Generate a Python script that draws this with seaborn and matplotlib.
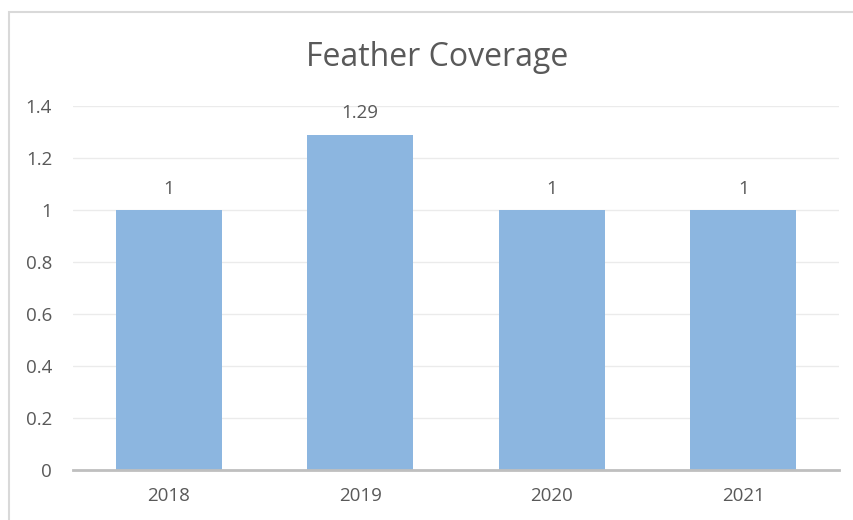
import matplotlib
matplotlib.use("Agg")
import matplotlib.pyplot as plt
import seaborn as sns
import pandas as pd
from matplotlib.patches import Rectangle

years = ["2018", "2019", "2020", "2021"]
values = [1, 1.29, 1, 1]
value_labels = ["1", "1.29", "1", "1"]
yticks = [0, 0.2, 0.4, 0.6, 0.8, 1, 1.2, 1.4]
ytick_labels = ["0", "0.2", "0.4", "0.6", "0.8", "1", "1.2", "1.4"]

sns.set_theme(style="white")
plt.rcParams['font.family'] = ['Open Sans', 'DejaVu Sans']

text_color = "#595959"
fig = plt.figure(figsize=(8.54, 5.2), dpi=100)
fig.patches.append(Rectangle((9/854, -0.1), 2.0, 1 - 12/520 + 0.1, transform=fig.transFigure,
                             fill=False, edgecolor="#D9D9D9", linewidth=1.5))
ax = fig.add_axes([73/854, 1 - 470/520, (839 - 73)/854, (470 - 106)/520])

df = pd.DataFrame({"year": years, "value": values})
sns.barplot(data=df, x="year", y="value", color="#8CB6E0", saturation=1, width=0.553,
            linewidth=0, edgecolor="none", ax=ax)

ax.set_ylim(0, 1.4)
ax.set_yticks(yticks)
ax.set_yticklabels(ytick_labels)
ax.yaxis.grid(True, color="#EBEBEB", linewidth=1)
ax.set_axisbelow(True)
for s in ["top", "right", "left"]:
    ax.spines[s].set_visible(False)
ax.spines["bottom"].set_color("#BFBFBF")
ax.spines["bottom"].set_linewidth(2)
ax.tick_params(axis="both", length=0, labelsize=13.5, colors=text_color)
ax.tick_params(axis="y", pad=15)
ax.tick_params(axis="x", pad=12)
ax.set_xlabel("")
ax.set_ylabel("")

for i, (v, lab) in enumerate(zip(values, value_labels)):
    ax.annotate(lab, (i, v), xytext=(0, 9), textcoords="offset points",
                ha="center", va="bottom", fontsize=13.5, color=text_color)

fig.text(437/854, 1 - 57/520, "Feather Coverage", ha="center", va="center",
         fontsize=23, color=text_color)

fig.savefig("out.png", dpi=100)
